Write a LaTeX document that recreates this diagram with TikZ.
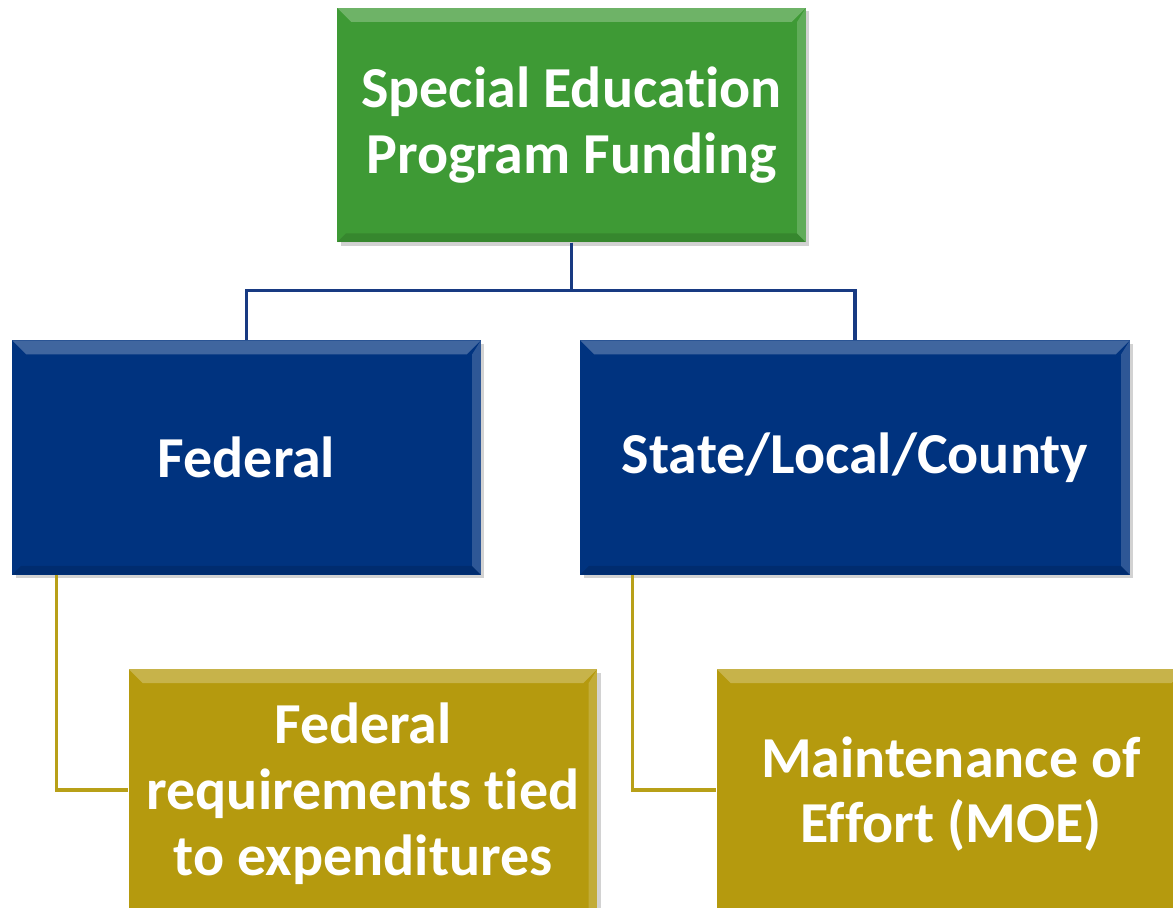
\documentclass[tikz,border=0pt]{standalone}
\usepackage{fontspec}
\setmainfont{Carlito}[Ligatures=NoCommon]
\usetikzlibrary{positioning}
\usetikzlibrary{shadows}
\definecolor{green}{RGB}{62,154,53}
\definecolor{blue}{RGB}{0,51,127}
\definecolor{gold}{RGB}{181,154,14}
\definecolor{blueline}{RGB}{24,58,130}
\definecolor{goldline}{RGB}{184,160,24}

\begin{document}
\begin{tikzpicture}[x=0.02cm, y=-0.02cm]
	\tikzstyle{box}=[rectangle, minimum width=9.38cm, minimum height=4.69cm, inner sep=2pt, text=white, font=\bfseries\fontsize{33}{37.5}\selectfont, align=center, drop shadow={shadow xshift=2pt, shadow yshift=-2pt, opacity=0.35},
		path picture={
			\fill[white, opacity=0.25] (path picture bounding box.north west) -- (path picture bounding box.north east) -- ([xshift=-8pt, yshift=-8pt]path picture bounding box.north east) -- ([xshift=8pt, yshift=-8pt]path picture bounding box.north west) -- cycle;
			\fill[white, opacity=0.18] (path picture bounding box.north east) -- (path picture bounding box.south east) -- ([xshift=-5pt, yshift=5pt]path picture bounding box.south east) -- ([xshift=-5pt, yshift=-8pt]path picture bounding box.north east) -- cycle;
			\fill[black, opacity=0.12] (path picture bounding box.south west) -- (path picture bounding box.south east) -- ([xshift=-5pt, yshift=5pt]path picture bounding box.south east) -- ([xshift=5pt, yshift=5pt]path picture bounding box.south west) -- cycle;
		}]
	\tikzstyle{bluebox}=[box, fill=blue]
	\tikzstyle{goldbox}=[box, fill=gold, minimum height=5cm]

	\clip (0,0) rectangle (1173,907);
	\fill[white] (0,0) rectangle (1173,907);

	\draw node at (571.5, 125) [box, fill=green] (top) {Special Education\\Program Funding};

	\draw node at (246.5, 457.5) [bluebox] (fed) {Federal};
	\draw node at (855, 457.5) [bluebox, minimum width=11cm] (state) {State/Local/County};

	% bottom edge runs past the page
	\draw node at (363, 794) [goldbox] (fedreq) {Federal\\requirements tied\\to expenditures};
	\draw node at (951, 794) [goldbox] (moe) {Maintenance of\\Effort (MOE)};

	\draw [blueline, line width=2pt] (top.south) -- ++(0,48) -| (fed.north);
	\draw [blueline, line width=2pt] (top.south) -- ++(0,48) -| (state.north);

	\draw [goldline, line width=2pt] ([xshift=0.9cm]fed.south west) |- ([yshift=0.08cm]fedreq.west);
	\draw [goldline, line width=2pt] ([xshift=1.06cm]state.south west) |- ([yshift=0.08cm]moe.west);
\end{tikzpicture}
\end{document}
